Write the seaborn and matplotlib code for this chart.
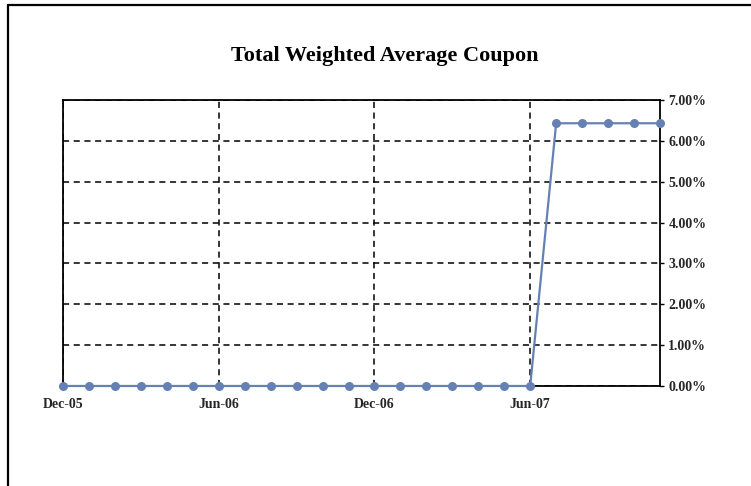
import matplotlib
matplotlib.use("Agg")
import matplotlib.pyplot as plt
import matplotlib.ticker as mticker
from matplotlib.lines import Line2D
import seaborn as sns
import pandas as pd

months = ["Dec-05", "Jan-06", "Feb-06", "Mar-06", "Apr-06", "May-06", "Jun-06",
          "Jul-06", "Aug-06", "Sep-06", "Oct-06", "Nov-06", "Dec-06",
          "Jan-07", "Feb-07", "Mar-07", "Apr-07", "May-07", "Jun-07",
          "Jul-07", "Aug-07", "Sep-07", "Oct-07", "Nov-07"]
wac = [0.0] * 19 + [0.0643] * 5
tick_labels = ["Dec-05", "Jun-06", "Dec-06", "Jun-07"]
y_ticks = [0.00, 0.01, 0.02, 0.03, 0.04, 0.05, 0.06, 0.07]

df = pd.DataFrame({"idx": range(len(months)), "month": months, "wac": wac})

sns.set_style("white")
plt.rcParams["font.family"] = ["Liberation Serif", "DejaVu Serif"]

fig = plt.figure(figsize=(7.51, 4.86), dpi=100)
ax = fig.add_axes([0.0839, 0.2058, 0.7949, 0.5885])

sns.lineplot(data=df, x="idx", y="wac", ax=ax, color="#6581b3", linewidth=1.6,
             marker="o", markersize=6.5, markeredgewidth=0, zorder=5, clip_on=False)

ax.set_xlim(0, len(months) - 1)
ax.set_ylim(0, 0.07)

tick_pos = [months.index(t) for t in tick_labels]
ax.set_xticks(tick_pos)
ax.set_xticklabels(tick_labels)
ax.set_yticks(y_ticks)
ax.yaxis.set_major_formatter(mticker.FuncFormatter(lambda v, p: f"{v * 100:.2f}%"))
ax.yaxis.tick_right()
ax.set_xlabel("")
ax.set_ylabel("")

ax.grid(True, color="black", linestyle=(0, (4, 3)), linewidth=1.1)
ax.tick_params(axis="y", length=3, width=1, color="black", direction="out",
               labelsize=10, pad=3, right=True, left=False)
ax.tick_params(axis="x", length=0, labelsize=10, pad=9)
for lab in ax.get_xticklabels() + ax.get_yticklabels():
    lab.set_fontweight("bold")

for s in ax.spines.values():
    s.set_visible(True)
    s.set_color("black")
    s.set_linewidth(1.3)

fig.text(0.512, 0.885, "Total Weighted Average Coupon", ha="center", va="center",
         fontsize=16, fontweight="bold", color="black")

# frame around the chart area (top and left edges)
fy = 1 - 5.5 / 486
fx = 8 / 751
fig.add_artist(Line2D([fx, fx], [0, fy], transform=fig.transFigure, color="black", linewidth=1.6))
fig.add_artist(Line2D([fx, 1], [fy, fy], transform=fig.transFigure, color="black", linewidth=1.6))

fig.savefig("out.png", dpi=100, facecolor="white")
